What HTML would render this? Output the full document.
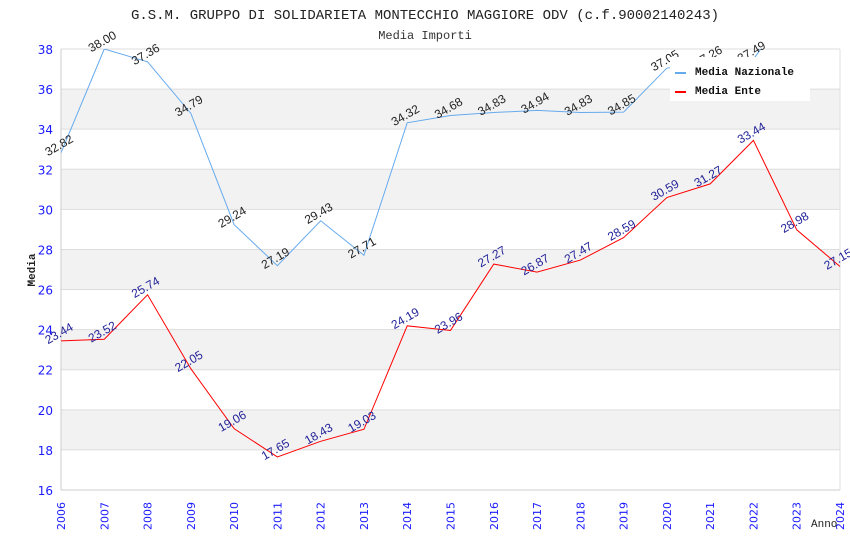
<!DOCTYPE html>
<html><head><meta charset="utf-8"><style>
body{margin:0;background:#fff;width:850px;height:550px;overflow:hidden}
svg{display:block}
</style></head><body>
<svg id="chart" width="850" height="550" xmlns="http://www.w3.org/2000/svg">
<text x="425" y="19" text-anchor="middle" font-family="Liberation Mono, monospace" font-size="14" fill="#222">G.S.M. GRUPPO DI SOLIDARIETA MONTECCHIO MAGGIORE ODV (c.f.90002140243)</text>
<text x="425" y="39" text-anchor="middle" font-family="Liberation Mono, monospace" font-size="12" fill="#333">Media Importi</text>
<g id="bands"></g><g id="grid"></g>
<text x="35" y="270" transform="rotate(-90 35 270)" text-anchor="middle" font-family="Liberation Mono, monospace" font-size="11" font-weight="bold" fill="#222">Media</text>
<text x="811" y="527" font-family="Liberation Mono, monospace" font-size="11" fill="#222">Anno</text>
<defs><clipPath id="clip"><rect x="61" y="49" width="780" height="441"/></clipPath></defs>
<g id="series"></g><g id="labels"></g><g id="ticks"></g>
<g>
<rect x="670" y="57" width="140" height="44" fill="#fff"/>
<line x1="675" y1="73" x2="686" y2="73" stroke="#66aaee" stroke-width="2"/>
<text x="695" y="75" font-family="Liberation Mono, monospace" font-size="11" font-weight="bold" fill="#111">Media Nazionale</text>
<line x1="675" y1="92" x2="686" y2="92" stroke="#ff0000" stroke-width="2"/>
<text x="695" y="94" font-family="Liberation Mono, monospace" font-size="11" font-weight="bold" fill="#111">Media Ente</text>
</g>
</svg>
<script>
const years=[2006,2007,2008,2009,2010,2011,2012,2013,2014,2015,2016,2017,2018,2019,2020,2021,2022,2023,2024];
const nazionale=[32.82,38.00,37.36,34.79,29.24,27.19,29.43,27.71,34.32,34.68,34.83,34.94,34.83,34.85,37.05,37.26,37.49,40.5,41.0];
const ente=[23.44,23.52,25.74,22.05,19.06,17.65,18.43,19.03,24.19,23.96,27.27,26.87,27.47,28.59,30.59,31.27,33.44,28.98,27.15];
const yTicks=[16,18,20,22,24,26,28,30,32,34,36,38];
const NS='http://www.w3.org/2000/svg';
const x0=61,x1=840,y0=490,y1=49,ymin=16,ymax=38;
function xs(i){return x0+(x1-x0)*i/(years.length-1);}
function ys(v){return y0-(v-ymin)/(ymax-ymin)*(y0-y1);}
function mk(t,a,p){const e=document.createElementNS(NS,t);for(const k in a)e.setAttribute(k,a[k]);document.getElementById(p).appendChild(e);return e;}
for(let k=0;k<yTicks.length-1;k++){
 if(k%2===1){const r=mk('rect',{x:x0,y:ys(yTicks[k+1]),width:x1-x0,height:ys(yTicks[k])-ys(yTicks[k+1]),fill:'#f2f2f2'},'bands');
 
 }
}
yTicks.forEach(v=>{
 const l=mk('line',{x1:x0,x2:x1,y1:ys(v),y2:ys(v),stroke:'#dddddd'},'grid');
 
 
 const t=mk('text',{x:x0-8,y:ys(v)+5,'text-anchor':'end','font-family':'DejaVu Sans, sans-serif','font-size':'12',fill:'#1a1aff'},'ticks');
 t.textContent=v;
 
 
});
mk('line',{x1:x0,x2:x0,y1:y1,y2:y0,stroke:'#cccccc'},'grid');
mk('line',{x1:x0,x2:x1,y1:y0,y2:y0,stroke:'#cccccc'},'grid');
mk('line',{x1:x1,x2:x1,y1:y1,y2:y0,stroke:'#e0e0e0'},'grid');
years.forEach((yr,i)=>{
 const x=xs(i)+4,y=502;
 const t=mk('text',{x:x,y:y,transform:`rotate(-90 ${x} ${y})`,'text-anchor':'end','font-family':'DejaVu Sans, sans-serif','font-size':'11',fill:'#1a1aff'},'ticks');
 t.textContent=yr;
 
 
});
function series(vals,color,lblColor,name){
 const p=mk('polyline',{points:vals.map((v,i)=>xs(i)+','+ys(v)).join(' '),fill:'none',stroke:color,'stroke-width':'1','clip-path':'url(#clip)'},'series');
 
 
 vals.forEach((v,i)=>{
  if(v>ymax)return;
  const x=xs(i),y=ys(v)-4;
  const t=mk('text',{x:x,y:y,transform:`rotate(-30 ${x} ${y})`,'text-anchor':'middle','font-family':'Liberation Sans, sans-serif','font-size':'12',fill:lblColor},'labels');
  t.textContent=v.toFixed(2);
  
  
 });
}
series(nazionale,'#66aaee','#222','nazionale');
series(ente,'#ff0000','#222299','ente');
</script>
</body></html>
